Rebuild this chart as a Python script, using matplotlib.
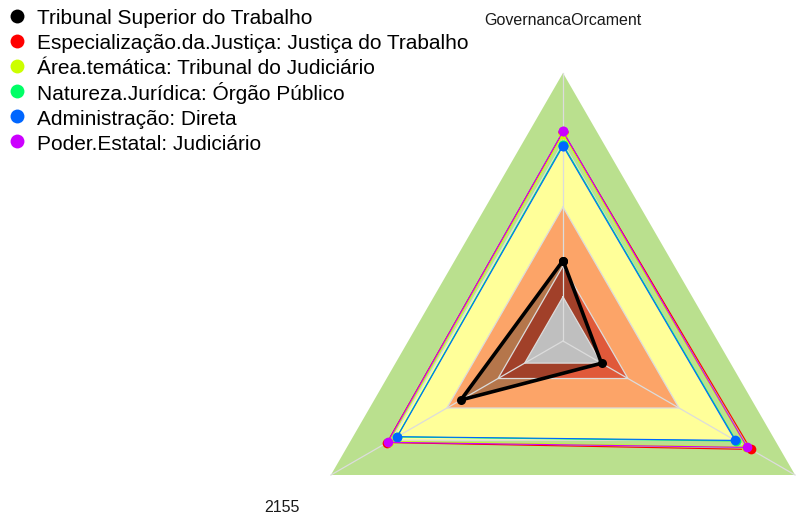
import numpy as np
import matplotlib
matplotlib.use("Agg")
import matplotlib.pyplot as plt
from matplotlib.lines import Line2D

plt.rcParams["font.family"] = ["Liberation Sans", "DejaVu Sans"]

# axes of the radar (top, bottom-left, bottom-right)
axis_labels = ["GovernancaOrcament", "2155", ""]

series_names = [
    "Tribunal Superior do Trabalho",
    "Especialização.da.Justiça: Justiça do Trabalho",
    "Área.temática: Tribunal do Judiciário",
    "Natureza.Jurídica: Órgão Público",
    "Administração: Direta",
    "Poder.Estatal: Judiciário",
]
series_colors = ["#000000", "#FF0000", "#CCFF00", "#00FF66", "#0066FF", "#CC00FF"]
series_values = [
    [0.30, 0.44, 0.166],
    [0.780, 0.758, 0.809],
    [0.772, 0.750, 0.790],
    [0.733, 0.716, 0.746],
    [0.728, 0.714, 0.742],
    [0.782, 0.756, 0.794],
]

# background bands (outer to inner)
band_levels = [1.0, 0.74, 0.5, 0.28]
band_colors = ["#bae08e", "#ffff99", "#fca468", "#e0593a"]
core_level = 0.165
core_color = "#bfbfbf"

angles = np.deg2rad([90, 210, 330])


def tri(r):
    r = np.asarray(r, dtype=float) * np.ones(3)
    x = np.cos(angles) * r
    y = np.sin(angles) * r
    return np.append(x, x[0]), np.append(y, y[0])


fig = plt.figure(figsize=(7.98, 5.16), dpi=100)
ax = fig.add_axes([0, 0, 1, 1])
scale = 268.0
ax.set_xlim(-563 / scale, 235 / scale)
ax.set_ylim(-175 / scale, 341 / scale)
ax.axis("off")

for r, c in zip(band_levels, band_colors):
    ax.fill(*tri(r), color=c, lw=0, zorder=1)

# black series shading
bx, by = tri(series_values[0])
ax.fill(bx, by, color="black", alpha=0.28, lw=0, zorder=2)
ax.fill(*tri(core_level), color=core_color, lw=0, zorder=3)

# grid
for r in band_levels[1:] + [core_level]:
    ax.plot(*tri(r), color="#dcdcdc", lw=0.9, zorder=4)
for a in angles:
    ax.plot([0, np.cos(a)], [0, np.sin(a)], color="#dcdcdc", lw=0.9, zorder=4)

for i, (vals, c) in enumerate(zip(series_values, series_colors)):
    x, y = tri(vals)
    lw = 2.6 if i == 0 else 0.8
    ms = 6.5 if i == 0 else 7
    ax.plot(x, y, color=c, lw=lw, marker="o", ms=ms, markeredgewidth=0, zorder=5 + i)

for lab, a in zip(axis_labels, angles):
    if lab:
        ax.text(1.21 * np.cos(a), 1.21 * np.sin(a) - 0.015, lab, ha="center", va="center",
                fontsize=11.5, color="#1a1a1a")

handles = [Line2D([], [], ls="none", marker="o", ms=10, color=c, markeredgewidth=0)
           for c in series_colors]
ax.legend(handles, series_names, loc="upper left", bbox_to_anchor=(0.0, 1.0),
          frameon=False, fontsize=15, handlelength=1.0, handletextpad=0.46,
          handleheight=1.2, labelspacing=0.16, borderaxespad=0.22, borderpad=0.1)

fig.savefig("out.png", dpi=100)
